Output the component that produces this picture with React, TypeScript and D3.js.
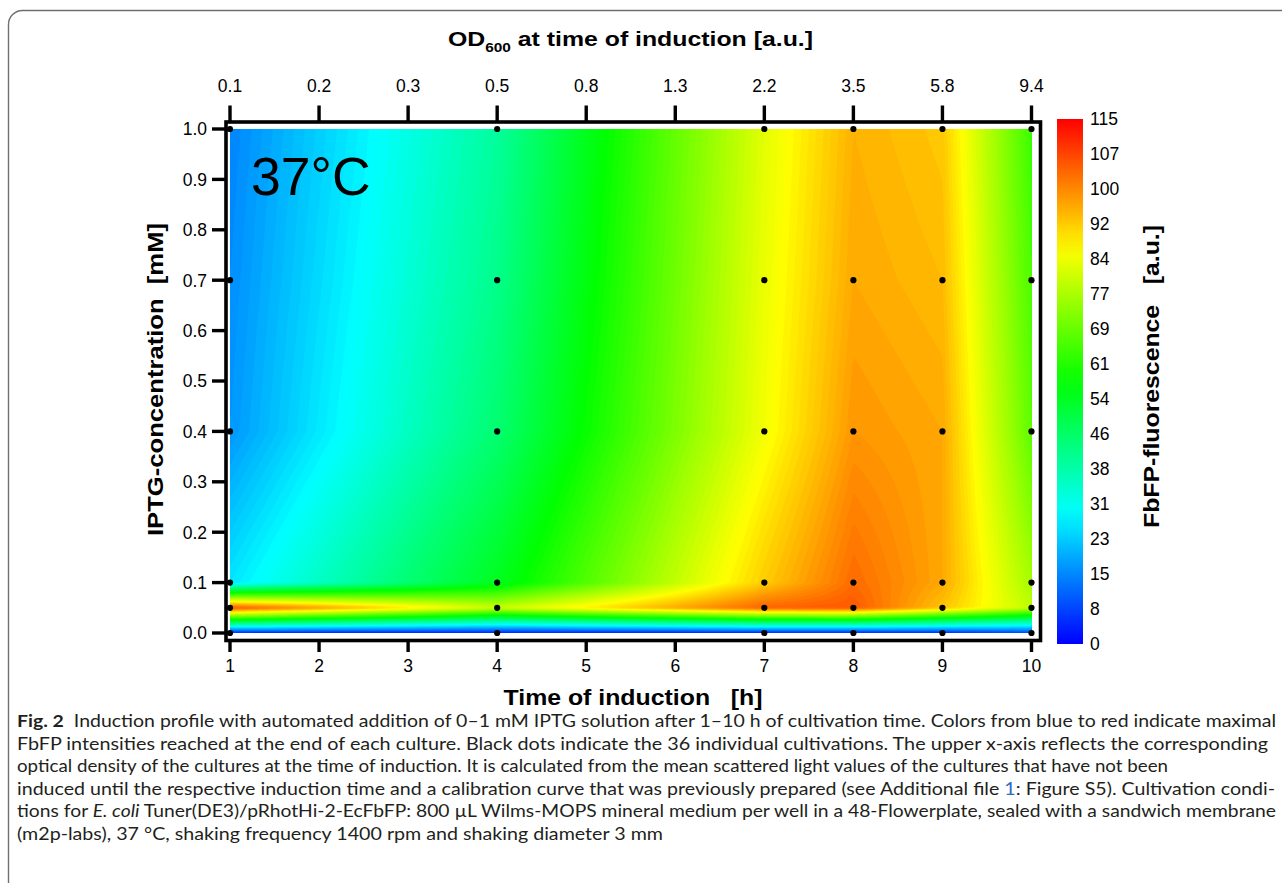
import { useMemo } from "react";
import * as d3 from "d3";

// induction grid (36 cultivations)
const timeH = [1, 4, 7, 8, 9, 10];
const iptgMM = [0, 0.05, 0.1, 0.4, 0.7, 1.0];
// FbFP fluorescence, one row per IPTG level (same order as iptgMM), one column per time
const fbfp: number[][] = [
  [3, 3, 3, 3, 4, 7],
  [106, 80, 104, 105, 93, 79],
  [26, 54, 92, 103, 96, 76],
  [17, 45, 85, 98, 96, 68],
  [16, 42, 84, 96, 94, 66],
  [15, 40, 83, 95, 92.5, 64],
];

const timeTicks = [1, 2, 3, 4, 5, 6, 7, 8, 9, 10];
const odTicks = ["0.1", "0.2", "0.3", "0.5", "0.8", "1.3", "2.2", "3.5", "5.8", "9.4"];
const iptgTicks = [0, 0.1, 0.2, 0.3, 0.4, 0.5, 0.6, 0.7, 0.8, 0.9, 1.0];
const colorTicks = ["0", "8", "15", "23", "31", "38", "46", "54", "61", "69", "77", "84", "92", "100", "107", "115"];
const colorStops = [0, 28.75, 57.5, 86.25, 115];
const colorNames = ["#0000ff", "#00ffff", "#00ff00", "#ffff00", "#ff0000"];

const captionLines = [
  "Induction profile with automated addition of 0–1 mM IPTG solution after 1–10 h of cultivation time. Colors from blue to red indicate maximal",
  "FbFP intensities reached at the end of each culture. Black dots indicate the 36 individual cultivations. The upper x-axis reflects the corresponding",
  "optical density of the cultures at the time of induction. It is calculated from the mean scattered light values of the cultures that have not been",
  "induced until the respective induction time and a calibration curve that was previously prepared (see Additional file ",
  "tions for ",
  "(m2p-labs), 37 °C, shaking frequency 1400 rpm and shaking diameter 3 mm",
];

const W = 1282;
const H = 883;
const font = "'Liberation Sans', Arial, Helvetica, sans-serif";

const x = d3.scaleLinear().domain([1, 10]).range([230, 1031.5]);
const y = d3.scaleLinear().domain([0, 1]).range([633, 129]);
const color = d3.scaleLinear<string>().domain(colorStops).range(colorNames).clamp(true);
const cbY = d3.scalePoint<string>().domain(colorTicks).range([644, 119]);

function locate(arr: number[], v: number): [number, number] {
  let i = d3.bisectRight(arr, v) - 1;
  i = Math.max(0, Math.min(arr.length - 2, i));
  const t = (v - arr[i]) / (arr[i + 1] - arr[i]);
  return [i, Math.max(0, Math.min(1, t))];
}

function surface(tx: number, ty: number) {
  const [i, u] = locate(timeH, tx);
  const [j, v] = locate(iptgMM, ty);
  const a = fbfp[j][i], b = fbfp[j][i + 1];
  const c = fbfp[j + 1][i], d = fbfp[j + 1][i + 1];
  return (a * (1 - u) + b * u) * (1 - v) + (c * (1 - u) + d * u) * v;
}

const App = () => {
  const bands = useMemo(() => {
    const x0 = x.range()[0], x1 = x.range()[1];
    const y0 = y.range()[1], y1 = y.range()[0];
    const nx = Math.ceil((x1 - x0) / 2);
    const ny = Math.ceil((y1 - y0) / 1.5);
    const sx = (x1 - x0) / nx;
    const sy = (y1 - y0) / ny;
    const vals = new Array(nx * ny);
    for (let r = 0; r < ny; r++) {
      const dy = y.invert(y0 + (r + 0.5) * sy);
      for (let c = 0; c < nx; c++) {
        const dx = x.invert(x0 + (c + 0.5) * sx);
        vals[r * nx + c] = surface(dx, dy);
      }
    }
    const thresholds = d3.range(0, 115, 1);
    const contours = d3.contours().size([nx, ny]).thresholds(thresholds)(vals);
    const path = d3.geoPath(
      d3.geoTransform({
        point(px: number, py: number) {
          this.stream.point(x0 + px * sx, y0 + py * sy);
        },
      })
    );
    return contours.map((g) => ({ d: path(g as any) || "", fill: color(g.value + 0.5) }));
  }, []);

  const gradStops = d3.range(0, 116, 5);

  return (
    <svg
      width={W}
      height={H}
      style={{ position: "absolute", left: 0, top: 0, background: "#fff" }}
      fontFamily={font}
    >
      <defs>
        <linearGradient id="cb" x1="0" y1="1" x2="0" y2="0">
          {gradStops.map((v) => (
            <stop key={v} offset={v / 115} stopColor={color(v)} />
          ))}
        </linearGradient>
      </defs>

      <rect x={8.5} y={10.5} width={1300} height={900} rx={14} fill="none" stroke="#6f6f6f" strokeWidth={1.4} />

      {/* contour surface */}
      <g>
        {bands.map((b, i) => (
          <path key={i} d={b.d} fill={b.fill} stroke="none" />
        ))}
      </g>

      {/* frame */}
      <rect x={226} y={122} width={814.5} height={518.5} fill="none" stroke="#000" strokeWidth={3.6} />

      {/* top axis */}
      {timeTicks.map((t, i) => (
        <g key={"tt" + t}>
          <line x1={x(t)} x2={x(t)} y1={105.5} y2={122} stroke="#000" strokeWidth={3.4} />
          <text x={x(t)} y={92} textAnchor="middle" fontSize={17.5}>
            {odTicks[i]}
          </text>
        </g>
      ))}
      <text x={630.5} y={45.5} textAnchor="middle" fontSize={21} fontWeight="bold" textLength={365} lengthAdjust="spacingAndGlyphs">
        OD
        <tspan fontSize={13} dy={6}>600</tspan>
        <tspan dy={-6}> at time of induction [a.u.]</tspan>
      </text>

      {/* bottom axis */}
      {timeTicks.map((t) => (
        <g key={"bt" + t}>
          <line x1={x(t)} x2={x(t)} y1={640} y2={652} stroke="#000" strokeWidth={3.4} />
          <text x={x(t)} y={672} textAnchor="middle" fontSize={17.5}>
            {t}
          </text>
        </g>
      ))}
      <text x={633} y={705} textAnchor="middle" fontSize={22} fontWeight="bold" textLength={259} lengthAdjust="spacingAndGlyphs" xmlSpace="preserve">
        Time of induction   [h]
      </text>

      {/* left axis */}
      {iptgTicks.map((v) => (
        <g key={"yl" + v}>
          <line x1={212} x2={226} y1={y(v)} y2={y(v)} stroke="#000" strokeWidth={3.4} />
          <text x={207} y={y(v)} dy="0.36em" textAnchor="end" fontSize={17.5}>
            {v.toFixed(1)}
          </text>
        </g>
      ))}
      <text
        transform="translate(162.5,379.5) rotate(-90)"
        textAnchor="middle"
        fontSize={22.5}
        fontWeight="bold"
        textLength={313}
        lengthAdjust="spacingAndGlyphs"
        xmlSpace="preserve"
      >
        IPTG-concentration  [mM]
      </text>

      {/* cultivation dots */}
      {iptgMM.map((c) =>
        timeH.map((t) => <circle key={t + "-" + c} cx={x(t)} cy={y(c)} r={3.1} fill="#000" />)
      )}

      <text x={251} y={195} fontSize={53.5}>
        37°C
      </text>

      {/* colour bar */}
      <rect x={1057} y={119} width={26} height={525} fill="url(#cb)" />
      {colorTicks.map((l) => (
        <text key={"cb" + l} x={1090} y={cbY(l)} dy="0.36em" fontSize={17.5}>
          {l}
        </text>
      ))}
      <text
        transform="translate(1158.5,376.5) rotate(-90)"
        textAnchor="middle"
        fontSize={22.5}
        fontWeight="bold"
        textLength={303}
        lengthAdjust="spacingAndGlyphs"
        xmlSpace="preserve"
      >
        FbFP-fluorescence   [a.u.]
      </text>

      {/* caption */}
      <g fontFamily="Lato, 'Open Sans', sans-serif" fontSize={17.5} fill="#231f20">
        <text x={17} y={727} textLength={1259} lengthAdjust="spacingAndGlyphs" xmlSpace="preserve">
          <tspan fontWeight="bold">Fig. 2</tspan>
          {"  " + captionLines[0]}
        </text>
        <text x={17} y={749.6} textLength={1251} lengthAdjust="spacingAndGlyphs">
          {captionLines[1]}
        </text>
        <text x={17} y={772.2} textLength={1151} lengthAdjust="spacingAndGlyphs">
          {captionLines[2]}
        </text>
        <text x={17} y={794.8} textLength={1258} lengthAdjust="spacingAndGlyphs">
          {captionLines[3]}
          <tspan fill="#2b6cc4">1</tspan>
          {": Figure S5). Cultivation condi-"}
        </text>
        <text x={17} y={817.4} textLength={1259} lengthAdjust="spacingAndGlyphs">
          {captionLines[4]}
          <tspan fontStyle="italic">E. coli</tspan>
          {" Tuner(DE3)/pRhotHi-2-EcFbFP: 800 µL Wilms-MOPS mineral medium per well in a 48-Flowerplate, sealed with a sandwich membrane"}
        </text>
        <text x={17} y={840} textLength={646} lengthAdjust="spacingAndGlyphs">
          {captionLines[5]}
        </text>
      </g>
    </svg>
  );
};

export default App;
